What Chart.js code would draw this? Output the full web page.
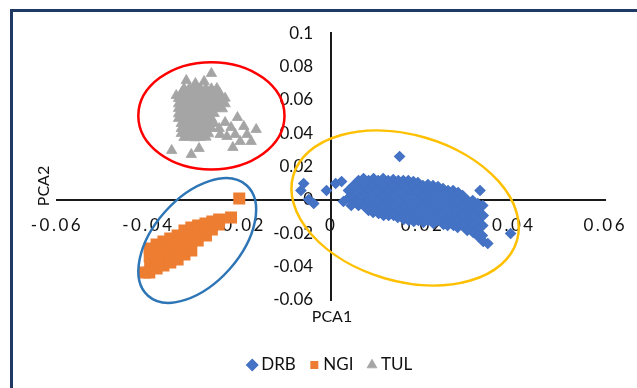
<!DOCTYPE html>
<html>
<head>
<meta charset="utf-8">
<script src="https://cdn.jsdelivr.net/npm/chart.js@4/dist/chart.umd.min.js"></script>
<style>
  html, body { margin: 0; padding: 0; background: #ffffff; }
  #wrap { position: relative; width: 637px; height: 388px; overflow: hidden; background: #ffffff; }
  #chart { position: absolute; left: 0; top: 0; }
  #frame { position: absolute; left: 10px; top: 9px; width: 700px; height: 500px;
           border-left: 3px solid #1f3864; border-top: 3px solid #1f3864; box-sizing: border-box; pointer-events: none; }
</style>
</head>
<body>
<div id="wrap">
  <canvas id="chart" width="637" height="388"></canvas>
  <div id="frame"></div>
</div>
<script>
// PCA scores per population: [PCA1, PCA2]
const seriesNames = ['DRB', 'NGI', 'TUL'];
const seriesColors = ['#4472C4', '#ED7D31', '#A5A5A5'];

const drb = [
  [0.0038, 0.0057], [0.0039, 0.0015],
  [0.0049, 0.0087], [0.0048, 0.0027], [0.0050, -0.0003],
  [0.0060, 0.0117], [0.0061, 0.0057], [0.0059, -0.0003], [0.0060, -0.0033],
  [0.0071, 0.0129], [0.0070, 0.0087], [0.0072, 0.0027], [0.0071, -0.0033],
  [0.0082, 0.0117], [0.0081, 0.0057], [0.0083, -0.0003], [0.0082, -0.0063],
  [0.0093, 0.0129], [0.0092, 0.0087], [0.0093, 0.0027], [0.0094, -0.0033], [0.0092, -0.0075],
  [0.0103, 0.0117], [0.0104, 0.0057], [0.0103, -0.0003], [0.0102, -0.0063], [0.0104, -0.0081],
  [0.0114, 0.0129], [0.0115, 0.0087], [0.0114, 0.0027], [0.0113, -0.0033], [0.0115, -0.0093],
  [0.0125, 0.0117], [0.0126, 0.0057], [0.0125, -0.0003], [0.0124, -0.0063], [0.0126, -0.0093],
  [0.0136, 0.0123], [0.0137, 0.0087], [0.0135, 0.0027], [0.0136, -0.0033], [0.0137, -0.0093],
  [0.0147, 0.0117], [0.0146, 0.0057], [0.0148, -0.0003], [0.0147, -0.0063], [0.0146, -0.0105],
  [0.0158, 0.0117], [0.0157, 0.0087], [0.0159, 0.0027], [0.0158, -0.0033], [0.0157, -0.0093], [0.0159, -0.0117],
  [0.0169, 0.0117], [0.0170, 0.0057], [0.0168, -0.0003], [0.0169, -0.0063], [0.0170, -0.0123],
  [0.0180, 0.0111], [0.0179, 0.0087], [0.0181, 0.0027], [0.0180, -0.0033], [0.0179, -0.0093], [0.0181, -0.0129],
  [0.0190, 0.0105], [0.0191, 0.0057], [0.0190, -0.0003], [0.0189, -0.0063], [0.0191, -0.0123],
  [0.0201, 0.0087], [0.0202, 0.0027], [0.0201, -0.0033], [0.0200, -0.0093], [0.0202, -0.0135],
  [0.0212, 0.0093], [0.0213, 0.0057], [0.0212, -0.0003], [0.0211, -0.0063], [0.0213, -0.0123],
  [0.0223, 0.0087], [0.0224, 0.0027], [0.0223, -0.0033], [0.0222, -0.0093], [0.0224, -0.0141],
  [0.0234, 0.0081], [0.0233, 0.0057], [0.0235, -0.0003], [0.0234, -0.0063], [0.0233, -0.0123],
  [0.0245, 0.0069], [0.0246, 0.0027], [0.0245, -0.0033], [0.0244, -0.0093], [0.0246, -0.0147],
  [0.0256, 0.0057], [0.0255, -0.0003], [0.0257, -0.0063], [0.0256, -0.0123], [0.0255, -0.0153],
  [0.0267, 0.0057], [0.0268, 0.0027], [0.0267, -0.0033], [0.0266, -0.0093], [0.0268, -0.0153],
  [0.0278, 0.0045], [0.0277, -0.0003], [0.0279, -0.0063], [0.0278, -0.0123], [0.0277, -0.0165],
  [0.0288, 0.0027], [0.0289, -0.0033], [0.0288, -0.0093], [0.0287, -0.0153],
  [0.0299, -0.0003], [0.0300, -0.0063], [0.0299, -0.0123], [0.0298, -0.0183],
  [0.0310, -0.0003], [0.0311, -0.0033], [0.0310, -0.0093], [0.0309, -0.0153], [0.0311, -0.0195],
  [0.0321, -0.0021], [0.0322, -0.0063], [0.0321, -0.0123], [0.0320, -0.0183], [0.0322, -0.0219],
  [0.0332, -0.0033], [0.0333, -0.0093], [0.0332, -0.0153], [0.0331, -0.0213], [0.0333, -0.0249],
  [0.0150, 0.0261], [0.0326, 0.0057], [0.0393, -0.0201], [0.0343, -0.0261],
  [-0.0060, 0.0099], [-0.0066, 0.0057], [-0.0049, 0.0003], [-0.0038, -0.0021],
  [-0.0010, 0.0057], [0.0010, 0.0099], [0.0023, 0.0111], [0.0027, -0.0009], [0.0044, -0.0033]
];

const ngi = [
  [-0.0397, -0.0291], [-0.0397, -0.0339], [-0.0396, -0.0387], [-0.0398, -0.0435],
  [-0.0382, -0.0267], [-0.0381, -0.0315], [-0.0383, -0.0363], [-0.0382, -0.0411],
  [-0.0367, -0.0249], [-0.0366, -0.0297], [-0.0368, -0.0345], [-0.0367, -0.0393],
  [-0.0352, -0.0231], [-0.0351, -0.0279], [-0.0353, -0.0327], [-0.0352, -0.0375],
  [-0.0336, -0.0213], [-0.0337, -0.0261], [-0.0335, -0.0309], [-0.0336, -0.0357],
  [-0.0321, -0.0183], [-0.0322, -0.0231], [-0.0320, -0.0279], [-0.0321, -0.0327],
  [-0.0306, -0.0165], [-0.0305, -0.0213], [-0.0307, -0.0261], [-0.0306, -0.0303],
  [-0.0291, -0.0153], [-0.0290, -0.0201], [-0.0292, -0.0243],
  [-0.0275, -0.0141], [-0.0276, -0.0177], [-0.0274, -0.0213],
  [-0.0260, -0.0129], [-0.0261, -0.0177],
  [-0.0245, -0.0117], [-0.0246, -0.0147],
  [-0.0408, -0.0435], [-0.0219, -0.0105], [-0.0201, 0.0009]
];

const tul = [
  [-0.0262, 0.0759], [-0.0278, 0.0711], [-0.0317, 0.0717], [-0.0297, 0.0699],
  [-0.0322, 0.0669], [-0.0310, 0.0671], [-0.0298, 0.0667], [-0.0286, 0.0669], [-0.0274, 0.0671],
  [-0.0262, 0.0667], [-0.0250, 0.0669],
  [-0.0328, 0.0639], [-0.0316, 0.0641], [-0.0304, 0.0637], [-0.0292, 0.0639], [-0.0280, 0.0641],
  [-0.0268, 0.0637], [-0.0256, 0.0639], [-0.0244, 0.0641],
  [-0.0334, 0.0609], [-0.0322, 0.0611], [-0.0310, 0.0607], [-0.0298, 0.0609], [-0.0286, 0.0611],
  [-0.0274, 0.0607], [-0.0262, 0.0609], [-0.0250, 0.0611], [-0.0238, 0.0607], [-0.0232, 0.0611],
  [-0.0334, 0.0577], [-0.0328, 0.0579], [-0.0316, 0.0581], [-0.0304, 0.0577], [-0.0292, 0.0579],
  [-0.0280, 0.0581], [-0.0268, 0.0577], [-0.0256, 0.0579], [-0.0244, 0.0581], [-0.0232, 0.0577],
  [-0.0334, 0.0549], [-0.0322, 0.0551], [-0.0310, 0.0547], [-0.0298, 0.0549], [-0.0286, 0.0551],
  [-0.0274, 0.0547], [-0.0262, 0.0549], [-0.0250, 0.0551], [-0.0238, 0.0547],
  [-0.0334, 0.0517], [-0.0328, 0.0519], [-0.0316, 0.0521], [-0.0304, 0.0517], [-0.0292, 0.0519],
  [-0.0280, 0.0521], [-0.0268, 0.0517], [-0.0256, 0.0519],
  [-0.0334, 0.0489], [-0.0322, 0.0491], [-0.0310, 0.0487], [-0.0298, 0.0489], [-0.0286, 0.0491],
  [-0.0274, 0.0487], [-0.0262, 0.0489], [-0.0205, 0.0495],
  [-0.0328, 0.0459], [-0.0316, 0.0461], [-0.0304, 0.0457], [-0.0292, 0.0459], [-0.0280, 0.0461],
  [-0.0268, 0.0457], [-0.0256, 0.0459],
  [-0.0328, 0.0429], [-0.0322, 0.0431], [-0.0310, 0.0427], [-0.0298, 0.0429], [-0.0286, 0.0431],
  [-0.0274, 0.0427], [-0.0262, 0.0429],
  [-0.0328, 0.0399], [-0.0316, 0.0401], [-0.0304, 0.0397], [-0.0292, 0.0399], [-0.0280, 0.0401],
  [-0.0268, 0.0397],
  [-0.0322, 0.0375], [-0.0310, 0.0377], [-0.0298, 0.0373], [-0.0286, 0.0375], [-0.0274, 0.0377],
  [-0.0232, 0.0465], [-0.0219, 0.0435], [-0.0210, 0.0393], [-0.0191, 0.0441], [-0.0164, 0.0423],
  [-0.0199, 0.0351], [-0.0175, 0.0351], [-0.0215, 0.0315], [-0.0228, 0.0381], [-0.0184, 0.0393],
  [-0.0245, 0.0429], [-0.0243, 0.0393],
  [-0.0349, 0.0297], [-0.0306, 0.0273], [-0.0289, 0.0309], [-0.0339, 0.0627]
];

const xTickValues = [-0.06, -0.04, -0.02, 0, 0.02, 0.04, 0.06];
const xTickLabels = ['-0.06', '-0.04', '-0.02', '0', '0.02', '0.04', '0.06'];
const yTickValues = [-0.06, -0.04, -0.02, 0, 0.02, 0.04, 0.06, 0.08, 0.1];
const yTickLabels = ['-0.06', '-0.04', '-0.02', '0', '0.02', '0.04', '0.06', '0.08', '0.1'];
const axisTitles = { x: 'PCA1', y: 'PCA2' };

// Outlines around each population: centre in data units, radii in axis units
// (rx measured along the x scale, ry along the y scale), angle in screen degrees.
const groupRings = [
  { cx: -0.0262, cy: 0.0505, rx: 0.0160, ry: 0.0322, angle: 0, color: '#FF0000' },
  { cx: -0.0293, cy: -0.0243, rx: 0.0162, ry: 0.0259, angle: -48.3, color: '#2E75B6' },
  { cx: 0.0162, cy: -0.0048, rx: 0.0255, ry: 0.0439, angle: 16.3, color: '#FFC000' }
];

const textColor = '#111111';
const fontFamily = 'Lato, "Open Sans", sans-serif';

// Linear scale whose tick labels can be shifted and letter-spaced.
class OffsetLinearScale extends Chart.LinearScale {
  drawLabels(chartArea) {
    const ctx = this.ctx;
    const dx = this.options.labelDx || 0;
    const dy = this.options.labelDy || 0;
    const spacing = this.options.labelSpacing || 0;
    ctx.save();
    ctx.translate(dx, dy);
    if (spacing) ctx.letterSpacing = spacing + 'px';
    super.drawLabels(chartArea);
    ctx.restore();
  }
}
OffsetLinearScale.id = 'offsetLinear';
OffsetLinearScale.defaults = Chart.LinearScale.defaults;
Chart.register(OffsetLinearScale);

const ringPlugin = {
  id: 'groupRings',
  afterDraw(chart) {
    const { ctx, scales } = chart;
    const sx = scales.x, sy = scales.y;
    const pxPerX = Math.abs(sx.getPixelForValue(1) - sx.getPixelForValue(0));
    const pxPerY = Math.abs(sy.getPixelForValue(1) - sy.getPixelForValue(0));
    ctx.save();
    ctx.lineWidth = 2.5;
    groupRings.forEach(r => {
      ctx.beginPath();
      ctx.ellipse(sx.getPixelForValue(r.cx), sy.getPixelForValue(r.cy),
        r.rx * pxPerX, r.ry * pxPerY, r.angle * Math.PI / 180, 0, Math.PI * 2);
      ctx.strokeStyle = r.color;
      ctx.stroke();
    });
    ctx.restore();
  }
};

const sideTitlePlugin = {
  id: 'sideTitle',
  afterDraw(chart) {
    const { ctx, chartArea, scales } = chart;
    ctx.save();
    ctx.translate(chartArea.left - 13, scales.y.getPixelForValue(0) - 14);
    ctx.rotate(-Math.PI / 2);
    ctx.font = '16px ' + fontFamily;
    ctx.fillStyle = textColor;
    ctx.textAlign = 'center';
    ctx.textBaseline = 'middle';
    ctx.fillText(axisTitles.y, 0, 0);
    ctx.restore();
  }
};

function makeDataset(i, points, style, radius, edge) {
  return {
    label: seriesNames[i],
    data: points.map(([x, y]) => ({ x, y })),
    pointStyle: style,
    pointRadius: radius,
    pointHoverRadius: radius,
    backgroundColor: seriesColors[i],
    borderColor: seriesColors[i],
    borderWidth: edge
  };
}

function draw() {
  new Chart(document.getElementById('chart'), {
    type: 'scatter',
    data: {
      datasets: [
        makeDataset(0, drb, 'rectRot', 5, 1.2),
        makeDataset(1, ngi, 'rect', 8.5, 0),
        makeDataset(2, tul, 'triangle', 6, 0.8)
      ]
    },
    options: {
      responsive: false,
      animation: false,
      devicePixelRatio: 1,
      layout: { padding: { left: 57, right: 30, top: 33.3, bottom: 4.5 } },
      scales: {
        x: {
          type: 'offsetLinear',
          position: { y: 0 },
          min: -0.06, max: 0.06,
          afterBuildTicks: s => { s.ticks = xTickValues.map(v => ({ value: v })); },
          afterFit: s => { s.height = 0; },
          grid: { display: false, drawTicks: false },
          border: { display: true, color: '#1a1a1a', width: 2 },
          labelSpacing: 2.5,
          ticks: {
            padding: 15, maxRotation: 0, autoSkip: false, color: textColor,
            font: { family: fontFamily, size: 17 },
            callback: (v, i) => xTickLabels[i]
          }
        },
        y: {
          type: 'offsetLinear',
          position: { x: 0 },
          min: -0.06, max: 0.1,
          afterBuildTicks: s => { s.ticks = yTickValues.map(v => ({ value: v })); },
          afterFit: s => { s.width = 0; },
          grid: { display: false, drawTicks: false },
          border: { display: true, color: '#1a1a1a', width: 2 },
          labelDx: -18,
          ticks: {
            padding: 0, autoSkip: false, color: textColor,
            font: { family: fontFamily, size: 17 },
            callback: (v, i) => yTickLabels[i]
          }
        }
      },
      plugins: {
        tooltip: { enabled: false },
        title: {
          display: true,
          text: axisTitles.x,
          position: 'bottom',
          weight: 500,
          color: textColor,
          font: { family: fontFamily, size: 16, weight: 'normal' },
          padding: { top: 7.4, bottom: 11.9 }
        },
        legend: {
          position: 'bottom',
          labels: {
            usePointStyle: true,
            boxWidth: 1,
            boxHeight: 8,
            padding: 18,
            color: textColor,
            font: { family: fontFamily, size: 17 }
          }
        }
      }
    },
    plugins: [ringPlugin, sideTitlePlugin]
  });
}

if (document.fonts && document.fonts.load) {
  Promise.all([document.fonts.load('16px Lato'), document.fonts.load('17px Lato')])
    .then(draw, draw);
} else {
  draw();
}
</script>
</body>
</html>
